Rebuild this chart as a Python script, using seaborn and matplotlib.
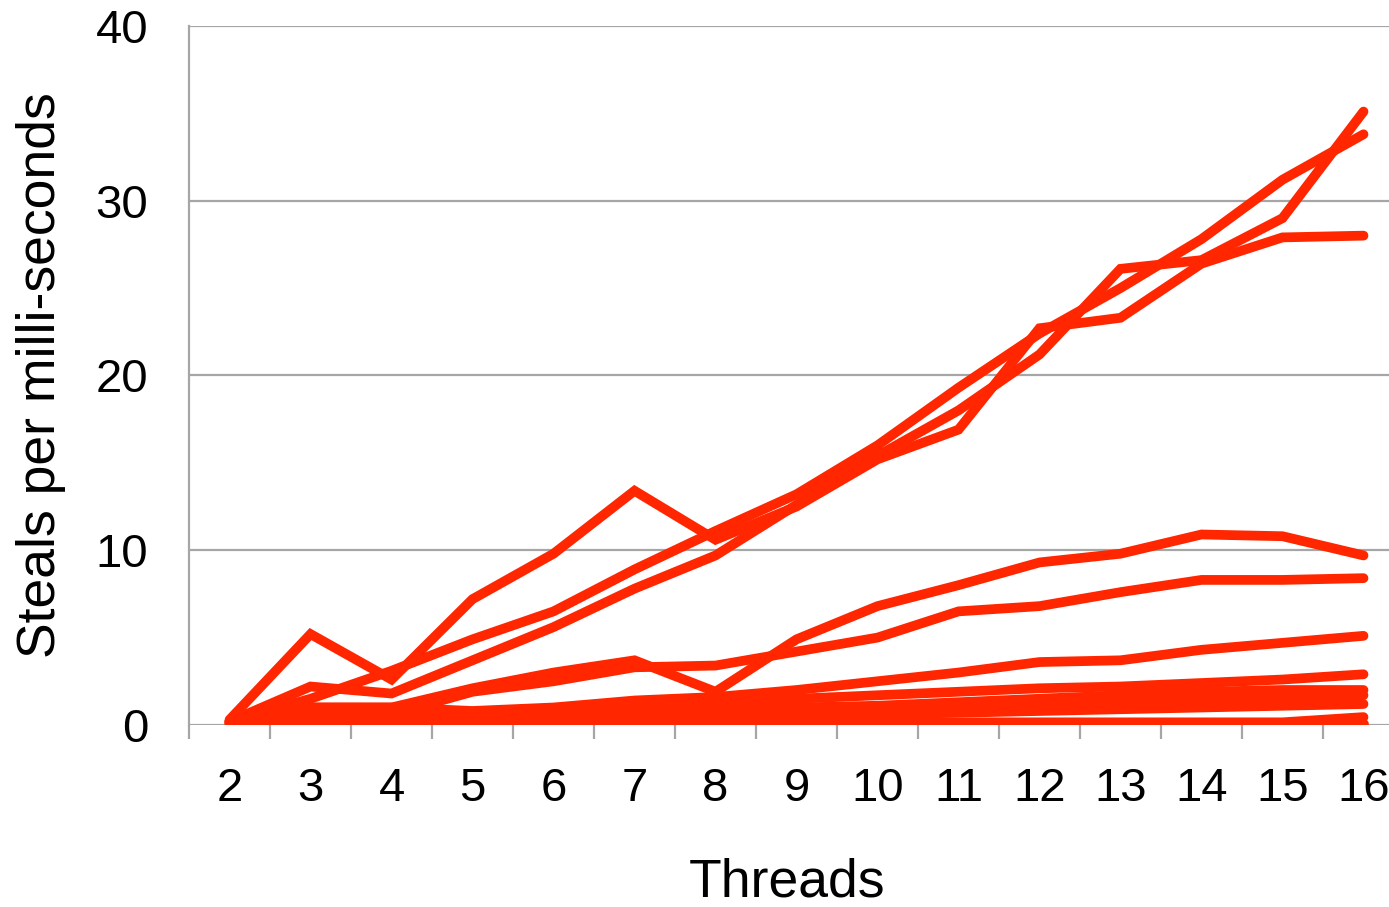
import numpy as np
import pandas as pd
import matplotlib
matplotlib.use("Agg")
import matplotlib.pyplot as plt
import seaborn as sns

sns.set_style("white")
plt.rcParams['font.family'] = ['Liberation Sans', 'DejaVu Sans']
plt.rcParams['text.color'] = 'black'
plt.rcParams['axes.labelcolor'] = 'black'
plt.rcParams['xtick.labelcolor'] = 'black'
plt.rcParams['ytick.labelcolor'] = 'black'

# 데이터
threads = [2, 3, 4, 5, 6, 7, 8, 9, 10, 11, 12, 13, 14, 15, 16]

s1 = [0.3, 5.2, 2.6, 7.2, 9.8, 13.4, 10.6, 12.5, 15.2, 16.9, 22.7, 23.3, 26.4, 27.9, 28.0]
s2 = [0.2, 1.5, 3.1, 4.9, 6.5, 8.9, 11.1, 13.2, 16.0, 19.3, 22.4, 25.0, 27.8, 31.2, 33.8]
s3 = [0.2, 2.2, 1.8, 3.7, 5.6, 7.8, 9.7, 12.6, 15.4, 18.0, 21.2, 26.1, 26.6, 29.0, 35.1]
s4 = [0.2, 1.0, 1.0, 2.1, 3.0, 3.7, 1.9, 4.9, 6.8, 8.0, 9.3, 9.8, 10.9, 10.8, 9.7]
s5 = [0.2, 0.9, 0.6, 1.9, 2.5, 3.3, 3.4, 4.2, 5.0, 6.5, 6.8, 7.6, 8.3, 8.3, 8.4]
s6 = [0.2, 1.0, 1.0, 0.8, 1.0, 1.4, 1.6, 2.0, 2.5, 3.0, 3.6, 3.7, 4.3, 4.7, 5.1]
s7 = [0.1, 0.4, 0.5, 0.7, 0.9, 1.1, 1.3, 1.5, 1.7, 1.9, 2.1, 2.2, 2.4, 2.6, 2.9]
s8 = [0.1, 0.3, 0.4, 0.5, 0.6, 0.8, 0.9, 1.0, 1.1, 1.3, 1.5, 1.7, 1.9, 2.0, 2.0]
s9 = [0.1, 0.2, 0.3, 0.4, 0.5, 0.6, 0.7, 0.8, 0.9, 1.0, 1.1, 1.3, 1.5, 1.6, 1.7]
s10 = [0.1, 0.2, 0.2, 0.3, 0.3, 0.4, 0.5, 0.6, 0.6, 0.7, 0.8, 0.9, 1.0, 1.1, 1.2]
s11 = [0.05, 0.1, 0.1, 0.1, 0.1, 0.1, 0.15, 0.15, 0.15, 0.15, 0.15, 0.15, 0.15, 0.15, 0.45]
s12 = [0.05, 0.05, 0.05, 0.05, 0.05, 0.05, 0.05, 0.05, 0.05, 0.05, 0.05, 0.05, 0.05, 0.05, 0.05]

series = [s1, s2, s3, s4, s5, s6, s7, s8, s9, s10, s11, s12]
df = pd.concat([pd.DataFrame({'threads': threads, 'steals': s, 'run': i})
                for i, s in enumerate(series)], ignore_index=True)

fig = plt.figure(figsize=(13.89, 9.07), dpi=100)
ax = fig.add_axes([0.1361, 0.2007, 0.8747, 0.7707])

sns.lineplot(data=df, x='threads', y='steals', units='run', estimator=None,
             color='#ff2600', linewidth=7, solid_capstyle='round',
             solid_joinstyle='miter', ax=ax, legend=False)

grey = '#a6a6a6'
ax.set_xlim(1.5, 16.5)
ax.set_ylim(0, 40)
ax.set_yticks([0, 10, 20, 30, 40])
ax.set_xticks(threads)
ax.set_xticks(np.arange(1.5, 17, 1), minor=True)
ax.yaxis.grid(True, color=grey, linewidth=1.6)
ax.set_axisbelow(True)
for side in ['top', 'right', 'bottom']:
    ax.spines[side].set_visible(False)
ax.spines['left'].set_color(grey)
ax.spines['left'].set_linewidth(1.6)

ax.tick_params(axis='y', which='major', length=9.5, width=1.6, color=grey,
               labelsize=34, pad=20)
ax.tick_params(axis='x', which='major', length=0, labelsize=34, pad=30)
ax.tick_params(axis='x', which='minor', length=10, width=1.6, color=grey,
               bottom=True)

ax.set_xlabel('Threads', fontsize=38.5, labelpad=34)
ax.xaxis.label.set_x(0.492)
ax.set_ylabel('Steals per milli-seconds', fontsize=38.5, labelpad=21)

plt.savefig('out.png', dpi=100)
